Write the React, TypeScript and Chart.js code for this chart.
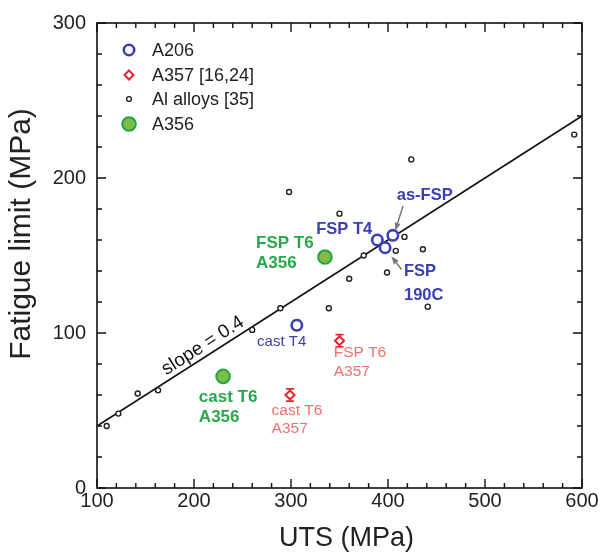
import React, { useEffect, useRef } from 'react';
import { Chart, registerables } from 'chart.js';

Chart.register(...registerables);

// ---------- data ----------
const alloyUTS = [110, 122, 142, 163, 260, 289, 339, 298, 350, 424, 375, 360, 399, 417, 408, 436, 441, 592];
const alloyFatigue = [40, 48, 61, 63, 102, 116, 116, 191, 177, 212, 150, 135, 139, 162, 153, 154, 117, 228];

const a206Names = ['cast T4', 'FSP T4', 'as-FSP', 'FSP 190C'];
const a206UTS = [306, 389, 405, 397];
const a206Fatigue = [105, 160, 163, 155];
const a206Err = [3, 0, 0, 0];

const a357Names = ['FSP T6', 'cast T6'];
const a357UTS = [350, 299];
const a357Fatigue = [95, 60];
const a357Err = [4, 4];

const a356Names = ['FSP T6', 'cast T6'];
const a356UTS = [335, 230];
const a356Fatigue = [149, 72];

const fitUTS = [100, 600];
const fitFatigue = [40, 240];
const slopeText = 'slope = 0.4';

const xTickValues = [100, 200, 300, 400, 500, 600];
const xTickLabels = ['100', '200', '300', '400', '500', '600'];
const yTickValues = [0, 100, 200, 300];
const yTickLabels = ['0', '100', '200', '300'];
const xTitle = 'UTS (MPa)';
const yTitle = 'Fatigue limit (MPa)';
const legendNames = ['A206', 'A357 [16,24]', 'Al alloys [35]', 'A356'];

// ---------- styles ----------
const FONT = '"Liberation Sans", Arial, Helvetica, sans-serif';
const BLUE = '#3a3fb2';
const RED = '#e5262c';
const SALMON = '#f27070';
const GREEN_TXT = '#27a84a';
const GREEN_FILL = '#7cbc48';
const GREEN_EDGE = '#22a544';
const GREY = '#777777';

// annotation labels, anchored in data coordinates (left edge, vertical middle)
const annotations = [
  { lines: ['as-FSP'], x: 409, y: 189, color: BLUE, bold: true, size: 16.5 },
  { lines: ['FSP T4'], x: 326, y: 166.5, color: BLUE, bold: true, size: 16.5 },
  { lines: ['FSP', '190C'], x: 416.5, y: 140, color: BLUE, bold: true, size: 16.5, gap: 24 },
  { lines: ['FSP T6', 'A356'], x: 264, y: 158, color: GREEN_TXT, bold: true, size: 17, gap: 20 },
  { lines: ['cast T6', 'A356'], x: 205, y: 58.5, color: GREEN_TXT, bold: true, size: 17, gap: 20 },
  { lines: ['cast T4'], x: 265, y: 94, color: BLUE, bold: false, size: 15 },
  { lines: ['FSP T6', 'A357'], x: 344, y: 87, color: SALMON, bold: false, size: 15.5, gap: 19 },
  { lines: ['cast T6', 'A357'], x: 280, y: 49.6, color: SALMON, bold: false, size: 15.5, gap: 18 },
];

const arrows = [
  { x1: 415.5, y1: 182, x2: 407.5, y2: 166 },
  { x1: 414, y1: 141, x2: 403.5, y2: 149.5 },
];

const pts = (xs: number[], ys: number[]) => xs.map((x, i) => ({ x, y: ys[i] }));

const overlay = {
  id: 'overlay',
  beforeDatasetsDraw(chart: any) {
    const { ctx } = chart;
    const xs = chart.scales.x;
    const ys = chart.scales.y;
    ctx.save();
    const bars = (ux: number[], fy: number[], err: number[], color: string) => {
      ctx.strokeStyle = color;
      ctx.lineWidth = 1.8;
      ux.forEach((u, i) => {
        if (!err[i]) return;
        const px = xs.getPixelForValue(u);
        const top = ys.getPixelForValue(fy[i] + err[i]);
        const bot = ys.getPixelForValue(fy[i] - err[i]);
        ctx.beginPath();
        ctx.moveTo(px, top);
        ctx.lineTo(px, bot);
        ctx.moveTo(px - 4, top);
        ctx.lineTo(px + 4, top);
        ctx.moveTo(px - 4, bot);
        ctx.lineTo(px + 4, bot);
        ctx.stroke();
      });
    };
    bars(a357UTS, a357Fatigue, a357Err, RED);
    bars(a206UTS, a206Fatigue, a206Err, BLUE);
    ctx.restore();
  },
  afterDraw(chart: any) {
    const { ctx, chartArea: a } = chart;
    const xs = chart.scales.x;
    const ys = chart.scales.y;
    ctx.save();

    // frame
    ctx.strokeStyle = '#111';
    ctx.lineWidth = 1.6;
    ctx.strokeRect(a.left, a.top, a.right - a.left, a.bottom - a.top);

    // inward ticks
    ctx.lineWidth = 1.4;
    ctx.beginPath();
    for (let v = xs.min; v <= xs.max; v += 20) {
      const len = v % 100 === 0 ? 9 : 5;
      const px = xs.getPixelForValue(v);
      ctx.moveTo(px, a.bottom);
      ctx.lineTo(px, a.bottom - len);
      ctx.moveTo(px, a.top);
      ctx.lineTo(px, a.top + len);
    }
    for (let v = ys.min; v <= ys.max; v += 20) {
      const len = v % 100 === 0 ? 9 : 5;
      const py = ys.getPixelForValue(v);
      ctx.moveTo(a.left, py);
      ctx.lineTo(a.left + len, py);
      ctx.moveTo(a.right, py);
      ctx.lineTo(a.right - len, py);
    }
    ctx.stroke();

    // axis titles
    ctx.fillStyle = '#222';
    ctx.textAlign = 'center';
    ctx.textBaseline = 'middle';
    ctx.font = `27px ${FONT}`;
    ctx.fillText(xTitle, (a.left + a.right) / 2 + 7, 539);
    ctx.save();
    ctx.translate(22, 234);
    ctx.rotate(-Math.PI / 2);
    ctx.font = `30px ${FONT}`;
    ctx.fillText(yTitle, 0, 0);
    ctx.restore();

    // legend
    const lx = a.left + 32;
    const tx = a.left + 55;
    const rows = [a.top + 27, a.top + 52, a.top + 76, a.top + 101];
    ctx.font = `18px ${FONT}`;
    ctx.textAlign = 'left';
    ctx.textBaseline = 'middle';
    legendNames.forEach((n, i) => {
      ctx.fillStyle = '#222';
      ctx.fillText(n, tx, rows[i] + 1);
    });
    // A206 marker
    ctx.strokeStyle = BLUE;
    ctx.lineWidth = 2.6;
    ctx.fillStyle = '#fff';
    ctx.beginPath();
    ctx.arc(lx, rows[0], 5.2, 0, Math.PI * 2);
    ctx.fill();
    ctx.stroke();
    // A357 marker
    ctx.strokeStyle = RED;
    ctx.lineWidth = 2;
    ctx.beginPath();
    ctx.moveTo(lx, rows[1] - 4.5);
    ctx.lineTo(lx + 4.5, rows[1]);
    ctx.lineTo(lx, rows[1] + 4.5);
    ctx.lineTo(lx - 4.5, rows[1]);
    ctx.closePath();
    ctx.stroke();
    // Al alloys
    ctx.strokeStyle = '#222';
    ctx.lineWidth = 1.4;
    ctx.beginPath();
    ctx.arc(lx, rows[2], 2.4, 0, Math.PI * 2);
    ctx.stroke();
    // A356
    ctx.strokeStyle = GREEN_EDGE;
    ctx.fillStyle = GREEN_FILL;
    ctx.lineWidth = 2;
    ctx.beginPath();
    ctx.arc(lx, rows[3], 6.8, 0, Math.PI * 2);
    ctx.fill();
    ctx.stroke();

    // annotations
    annotations.forEach((an: any) => {
      ctx.font = `${an.bold ? 'bold ' : ''}${an.size}px ${FONT}`;
      ctx.fillStyle = an.color;
      ctx.textAlign = 'left';
      ctx.textBaseline = 'middle';
      const px = xs.getPixelForValue(an.x);
      const py = ys.getPixelForValue(an.y);
      an.lines.forEach((t: string, i: number) => ctx.fillText(t, px, py + i * (an.gap || 0)));
    });

    // arrows
    ctx.strokeStyle = GREY;
    ctx.fillStyle = GREY;
    ctx.lineWidth = 1.5;
    arrows.forEach((ar) => {
      const x1 = xs.getPixelForValue(ar.x1);
      const y1 = ys.getPixelForValue(ar.y1);
      const x2 = xs.getPixelForValue(ar.x2);
      const y2 = ys.getPixelForValue(ar.y2);
      const ang = Math.atan2(y2 - y1, x2 - x1);
      const hl = 8;
      const bx = x2 - hl * Math.cos(ang);
      const by = y2 - hl * Math.sin(ang);
      ctx.beginPath();
      ctx.moveTo(x1, y1);
      ctx.lineTo(bx, by);
      ctx.stroke();
      ctx.beginPath();
      ctx.moveTo(x2, y2);
      ctx.lineTo(bx + 3 * Math.sin(ang), by - 3 * Math.cos(ang));
      ctx.lineTo(bx - 3 * Math.sin(ang), by + 3 * Math.cos(ang));
      ctx.closePath();
      ctx.fill();
    });

    // slope label along fit line
    const sx1 = xs.getPixelForValue(fitUTS[0]);
    const sy1 = ys.getPixelForValue(fitFatigue[0]);
    const sx2 = xs.getPixelForValue(fitUTS[1]);
    const sy2 = ys.getPixelForValue(fitFatigue[1]);
    const ang = Math.atan2(sy2 - sy1, sx2 - sx1);
    const u = 215;
    const fy = fitFatigue[0] + ((fitFatigue[1] - fitFatigue[0]) / (fitUTS[1] - fitUTS[0])) * (u - fitUTS[0]);
    ctx.save();
    ctx.translate(xs.getPixelForValue(u), ys.getPixelForValue(fy));
    ctx.rotate(ang);
    ctx.font = `19px ${FONT}`;
    ctx.fillStyle = '#111';
    ctx.textAlign = 'center';
    ctx.textBaseline = 'bottom';
    ctx.fillText(slopeText, 0, -1);
    ctx.restore();

    ctx.restore();
  },
};

export default function App() {
  const ref = useRef<HTMLCanvasElement | null>(null);
  useEffect(() => {
    if (!ref.current) return;
    const chart = new Chart(ref.current, {
      type: 'scatter',
      data: {
        datasets: [
          {
            label: legendNames[3],
            data: pts(a356UTS, a356Fatigue),
            pointStyle: 'circle',
            pointRadius: 6.8,
            borderWidth: 2,
            borderColor: GREEN_EDGE,
            backgroundColor: GREEN_FILL,
          },
          {
            label: legendNames[0],
            data: pts(a206UTS, a206Fatigue),
            pointStyle: 'circle',
            pointRadius: 5.2,
            borderWidth: 2.6,
            borderColor: BLUE,
            backgroundColor: '#ffffff',
          },
          {
            label: legendNames[1],
            data: pts(a357UTS, a357Fatigue),
            pointStyle: 'rectRot',
            pointRadius: 4.5,
            borderWidth: 2,
            borderColor: RED,
            backgroundColor: '#ffffff',
          },
          {
            label: legendNames[2],
            data: pts(alloyUTS, alloyFatigue),
            pointStyle: 'circle',
            pointRadius: 2.5,
            borderWidth: 1.4,
            borderColor: '#222',
            backgroundColor: '#ffffff',
          },
          {
            type: 'line',
            label: 'fit',
            data: pts(fitUTS, fitFatigue),
            borderColor: '#111',
            borderWidth: 1.6,
            pointRadius: 0,
            fill: false,
          } as any,
        ],
      },
      options: {
        animation: false,
        responsive: false,
        devicePixelRatio: 1,
        layout: { padding: { top: 16, right: 20, left: 0, bottom: 0 } },
        plugins: { legend: { display: false }, tooltip: { enabled: false } },
        scales: {
          x: {
            type: 'linear',
            min: 100,
            max: 600,
            afterFit: (s: any) => { s.height = 69; },
            afterBuildTicks: (s: any) => { s.ticks = xTickValues.map((v) => ({ value: v })); },
            ticks: {
              callback: (v: any) => xTickLabels[xTickValues.indexOf(Number(v))] ?? '',
              font: { family: FONT, size: 20 },
              color: '#222',
              padding: 1,
              maxRotation: 0,
            },
            grid: { display: false, drawTicks: false },
            border: { display: false },
          },
          y: {
            type: 'linear',
            min: 0,
            max: 300,
            afterFit: (s: any) => { s.width = 97; },
            afterBuildTicks: (s: any) => { s.ticks = yTickValues.map((v) => ({ value: v })); },
            ticks: {
              callback: (v: any) => yTickLabels[yTickValues.indexOf(Number(v))] ?? '',
              font: { family: FONT, size: 20 },
              color: '#222',
              padding: 11,
            },
            grid: { display: false, drawTicks: false },
            border: { display: false },
          },
        },
      },
      plugins: [overlay],
    });
    return () => chart.destroy();
  }, []);
  return (
    <div style={{ position: 'absolute', left: 0, top: 0, width: 602, height: 557, background: '#fff' }}>
      <canvas ref={ref} width={602} height={557} style={{ display: 'block', width: 602, height: 557 }} />
    </div>
  );
}
